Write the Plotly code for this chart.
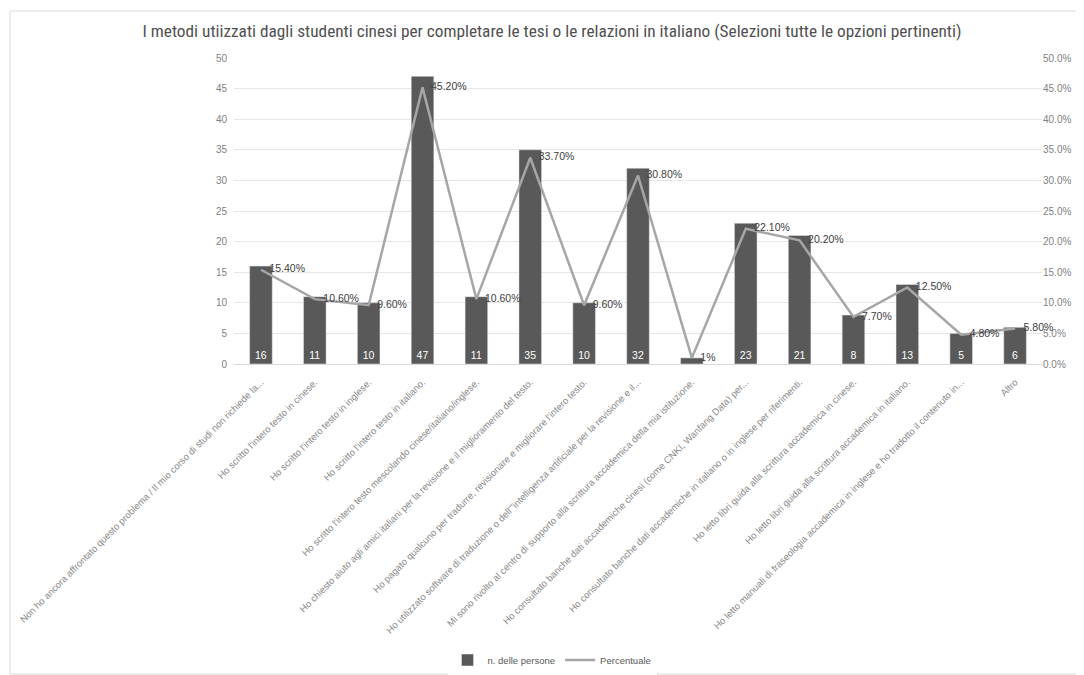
import plotly.graph_objects as go

categories = [
    "Non ho ancora affrontato questo problema / Il mio corso di studi non richiede la...",
    "Ho scritto l'intero testo in cinese.",
    "Ho scritto l'intero testo in inglese.",
    "Ho scritto l'intero testo in italiano.",
    "Ho scritto l'intero testo mescolando cinese/italiano/inglese.",
    "Ho chiesto aiuto agli amici italiani per la revisione e il miglioramento del testo.",
    "Ho pagato qualcuno per tradurre, revisionare e migliorare l'intero testo.",
    "Ho utilizzato software di traduzione o dell'\"intelligenza artificiale per la revisione e il...",
    "Mi sono rivolto al centro di supporto alla scrittura accademica della mia istituzione.",
    "Ho consultato banche dati accademiche cinesi (come CNKI, Wanfang Data) per...",
    "Ho consultato banche dati accademiche in italiano o in inglese per riferimenti.",
    "Ho letto libri guida alla scrittura accademica in cinese.",
    "Ho letto libri guida alla scrittura accademica in italiano.",
    "Ho letto manuali di fraseologia accademica in inglese e ho tradotto il contenuto in...",
    "Altro",
]
persone = [16, 11, 10, 47, 11, 35, 10, 32, 1, 23, 21, 8, 13, 5, 6]
percentuale = [15.4, 10.6, 9.6, 45.2, 10.6, 33.7, 9.6, 30.8, 1.0, 22.1, 20.2, 7.7, 12.5, 4.8, 5.8]

left_ticks = [0, 5, 10, 15, 20, 25, 30, 35, 40, 45, 50]

title = "I metodi utiizzati dagli studenti cinesi per completare le tesi o le relazioni in italiano (Selezioni tutte le opzioni pertinenti)"

FONT = "Liberation Sans Narrow, Arial Narrow, Roboto Condensed, Liberation Sans, sans-serif"
LBL = "Liberation Sans, Arial, sans-serif"

pct_text = [(f"{p:.2f}%" if p != int(p) else f"{int(p)}%") for p in percentuale]

fig = go.Figure()
fig.add_trace(go.Bar(
    x=categories, y=persone, name="n. delle persone",
    marker=dict(color="#595959"), width=0.42,
    text=[str(v) for v in persone], textposition="inside", insidetextanchor="start",
    textfont=dict(color="white", size=10.5, family=LBL),
    cliponaxis=False,
))
fig.add_trace(go.Scatter(
    x=categories, y=[p / 100 for p in percentuale], name="Percentuale",
    yaxis="y2", mode="lines+markers+text",
    line=dict(color="#a6a6a6", width=2.5),
    marker=dict(size=12, color="rgba(0,0,0,0)"),
    text=pct_text, textposition="middle right",
    textfont=dict(color="#404040", size=10.5, family=LBL),
    cliponaxis=False,
))

# body margin offset of the page (8px)
O = 8
W, H = 1084 - O, 675 - O
L = 234 - O
R = W - (1042 - O)
T = 58 - O
B = H - (364 - O)
pw, ph = W - L - R, H - T - B
def px(x): return (x - O - L) / pw
def py(y): return (H - B - (y - O)) / ph

fig.update_layout(
    width=W, height=H,
    margin=dict(l=L, r=R, t=T, b=B, autoexpand=False),
    paper_bgcolor="white", plot_bgcolor="white",
    font=dict(family=LBL, color="#7f7f7f", size=9),
    title=dict(text=title, x=(552 - O) / W, xanchor="center", y=1 - (31 - O) / H, yanchor="middle",
               font=dict(family=FONT, size=17.3, color="#505050")),
    xaxis=dict(tickangle=-45, tickfont=dict(size=9.5, color="#8a8a8a"),
               range=[-0.5, len(categories) - 0.5], ticklabelstandoff=8,
               showline=True, linecolor="#d9d9d9", ticks="", automargin=False),
    yaxis=dict(range=[0, 50], tickvals=left_ticks, showgrid=True, gridcolor="#e6e6e6",
               zeroline=False, tickfont=dict(size=10, color="#7f7f7f"), automargin=False,
               ticklabelstandoff=6),
    yaxis2=dict(range=[0, 0.5], overlaying="y", side="right", tickformat=".1%",
                dtick=0.05, showgrid=False, zeroline=False,
                tickfont=dict(size=10, color="#7f7f7f"), automargin=False),
    legend=dict(orientation="h", x=(552 - O) / W, xanchor="center", xref="container",
                y=1 - (660 - O) / H, yanchor="middle", yref="container",
                font=dict(size=9.5, color="#595959")),
    shapes=[dict(type="rect", xref="paper", yref="paper",
                 x0=px(10), x1=px(1083), y0=py(674), y1=py(11),
                 line=dict(color="#d9d9d9", width=1), layer="below")],
    uniformtext=dict(minsize=9, mode="hide"),
)

fig.write_html("out.html")
